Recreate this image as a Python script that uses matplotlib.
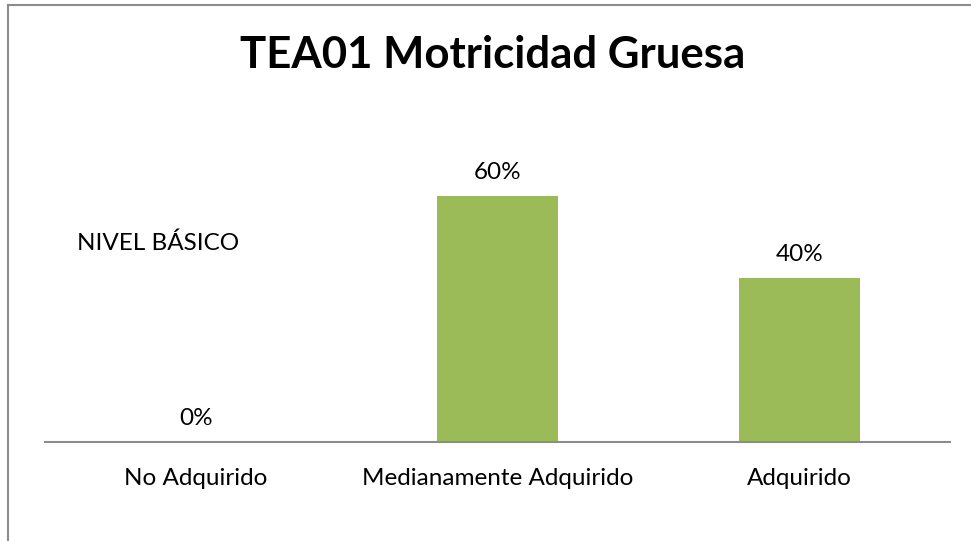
import matplotlib.pyplot as plt
from matplotlib.lines import Line2D

categorias = ['No Adquirido', 'Medianamente Adquirido', 'Adquirido']
valores = [0.0, 0.6, 0.4]
etiquetas = ['0%', '60%', '40%']

plt.rcParams['font.family'] = ['Lato', 'DejaVu Sans']

fig = plt.figure(figsize=(9.71, 5.41), dpi=100)
ax = fig.add_axes([45 / 971, 99 / 541, 905 / 971, 328 / 541])

x = range(len(categorias))
ax.bar(x, valores, width=0.4, color='#9BBB59')
for i, v in enumerate(valores):
    ax.annotate(etiquetas[i], (i, v), xytext=(0, 17), textcoords='offset points',
                ha='center', va='center', fontsize=17.5)

ax.set_xlim(-0.5, 2.5)
ax.set_ylim(0, 0.8)
ax.set_xticks(list(x))
ax.set_xticklabels(categorias, fontsize=17.5)
ax.tick_params(axis='x', length=0, pad=18.5)
ax.set_yticks([])
for s in ['top', 'right', 'left']:
    ax.spines[s].set_visible(False)
ax.spines['bottom'].set_color('#8c8c8c')
ax.spines['bottom'].set_linewidth(1.5)

fig.text(493 / 971, 1 - 55.5 / 541, 'TEA01 Motricidad Gruesa', ha='center', va='center',
         fontsize=31.5, fontweight='bold')
fig.text(77 / 971, 1 - 243 / 541, 'NIVEL BÁSICO', ha='left', va='center', fontsize=17.5)

# borde del gráfico (solo arriba e izquierda visibles)
fig.add_artist(Line2D([7.5 / 971, 7.5 / 971], [0, 1 - 4.5 / 541], color='#8c8c8c', lw=1.5))
fig.add_artist(Line2D([7.5 / 971, 1], [1 - 4.5 / 541, 1 - 4.5 / 541], color='#8c8c8c', lw=1.5))

fig.savefig('out.png', dpi=100)
